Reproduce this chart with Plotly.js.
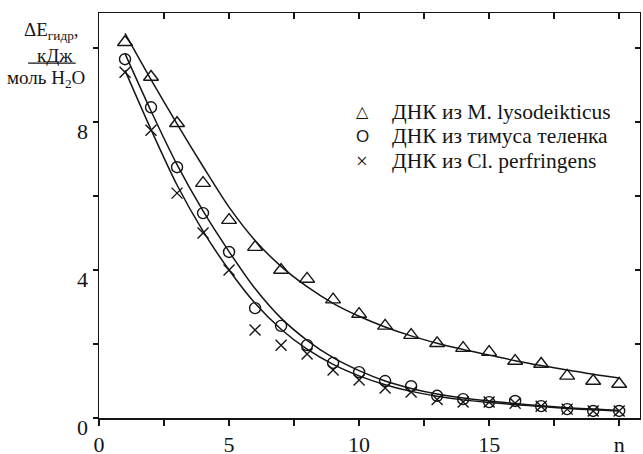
<!DOCTYPE html>
<html>
<head>
<meta charset="utf-8">
<script src="https://cdn.plot.ly/plotly-3.0.1.min.js"></script>
<style>html,body{margin:0;padding:0;background:#fff;}#chart{width:643px;height:454px;}</style>
</head>
<body>
<div id="chart"></div>
<script>
// n values
const nVals = [1,2,3,4,5,6,7,8,9,10,11,12,13,14,15,16,17,18,19,20];
// measured points
const lysoPts   = [10.16, 9.22, 7.97, 6.35, 5.35, 4.62, 4.0, 3.76, 3.2, 2.81, 2.49, 2.24, 2.02, 1.89, 1.78, 1.54, 1.46, 1.14, 1.0, 0.92];
const thymusPts = [9.7, 8.4, 6.78, 5.54, 4.49, 2.97, 2.49, 1.97, 1.49, 1.24, 1.0, 0.86, 0.6, 0.51, 0.43, 0.46, 0.32, 0.24, 0.19, 0.19];
const perfPts   = [9.35, 7.78, 6.08, 5.0, 4.0, 2.38, 1.97, 1.73, 1.3, 1.03, 0.81, 0.7, 0.5, 0.43, 0.43, 0.4, 0.32, 0.24, 0.19, 0.19];
// fitted curves
const lysoFit   = [10.4, 9.15, 7.95, 6.8, 5.7, 4.8, 4.1, 3.55, 3.1, 2.75, 2.46, 2.22, 2.02, 1.85, 1.7, 1.55, 1.42, 1.3, 1.18, 1.08];
const thymusFit = [9.85, 8.3, 6.85, 5.6, 4.5, 3.5, 2.7, 2.1, 1.63, 1.28, 1.0, 0.8, 0.65, 0.54, 0.46, 0.39, 0.33, 0.28, 0.24, 0.2];
const perfFit   = [9.4, 7.8, 6.3, 5.05, 4.0, 3.1, 2.4, 1.86, 1.45, 1.14, 0.9, 0.72, 0.59, 0.49, 0.42, 0.36, 0.31, 0.26, 0.22, 0.19];
// labels
const legendNames   = ['ДНК из M. lysodeikticus', 'ДНК из тимуса теленка', 'ДНК из Cl. perfringens'];
const legendSymbols = ['△', 'O', '×'];
const xTickVals = [0, 5, 10, 15, 20];
const xTickText = ['0', '5', '10', '15', 'n'];
const yTickVals = [0, 4, 8];
const yTickText = ['0', '4', '8'];
const yTitleLines = ['ΔE<sub>гидр</sub>,', 'кДж', 'моль H<sub>2</sub>O'];

const ink = '#151515';
const serif = '"Liberation Serif", "Times New Roman", Times, serif';

function fitLine(y) {
  return {x: nVals, y: y, mode: 'lines', type: 'scatter', showlegend: false, hoverinfo: 'skip',
          line: {color: ink, width: 1.5, shape: 'spline', smoothing: 0.8}};
}
function pts(y, name, symbol, size) {
  return {x: nVals, y: y, mode: 'markers', type: 'scatter', name: name, showlegend: false,
          marker: {symbol: symbol, size: size, color: ink, line: {color: ink, width: 1.4}}};
}

const data = [
  fitLine(lysoFit), fitLine(thymusFit), fitLine(perfFit),
  pts(lysoPts, legendNames[0], 'triangle-up-open', 13),
  pts(thymusPts, legendNames[1], 'circle-open', 11),
  pts(perfPts, legendNames[2], 'x-thin-open', 11)
];

const xr = [0, 20.8], yr = [0, 10.95];
const tickFont = {family: serif, size: 22, color: ink};

const annotations = [];
// y tick labels, placed on the y scale, sitting slightly below their ticks as in the original
yTickVals.forEach((v, i) => {
  annotations.push({xref: 'paper', yref: 'y', x: -0.016, y: v, xanchor: 'right', yanchor: 'middle',
    yshift: -9, showarrow: false, text: yTickText[i], font: tickFont});
});
// legend rows (paper y of each row)
const legendRowY = [0.756, 0.696, 0.635];
legendNames.forEach((name, i) => {
  annotations.push({xref: 'paper', yref: 'paper', x: 0.487, y: legendRowY[i], xanchor: 'center', yanchor: 'middle',
    showarrow: false, text: legendSymbols[i],
    font: {family: i === 0 ? 'DejaVu Sans' : (i === 1 ? 'Liberation Sans' : serif), size: i === 2 ? 21 : (i === 0 ? 16 : 17), color: ink}});
  annotations.push({xref: 'paper', yref: 'paper', x: 0.538, y: legendRowY[i], xanchor: 'left', yanchor: 'middle',
    showarrow: false, text: name, font: {family: serif, size: 21.5, color: ink}});
});
annotations.push(
  {xref: 'paper', yref: 'paper', x: -0.087, y: 0.955, xanchor: 'center', yanchor: 'middle', showarrow: false,
   text: yTitleLines[0], font: {family: serif, size: 19, color: ink}},
  {xref: 'paper', yref: 'paper', x: -0.082, y: 0.896, xanchor: 'center', yanchor: 'middle', showarrow: false,
   text: yTitleLines[1], font: {family: serif, size: 19, color: ink}},
  {xref: 'paper', yref: 'paper', x: -0.098, y: 0.838, xanchor: 'center', yanchor: 'middle', showarrow: false,
   text: yTitleLines[2], font: {family: serif, size: 19, color: ink}}
);

const layout = {
  width: 643, height: 454,
  margin: {l: 99, r: 3, t: 13, b: 36},
  paper_bgcolor: '#fff', plot_bgcolor: '#fff',
  font: {family: serif, color: ink},
  showlegend: false,
  xaxis: {range: xr, showgrid: false, zeroline: false, showline: true, linecolor: ink, linewidth: 1.5,
          ticks: 'outside', ticklen: 6, tickwidth: 1.5, tickcolor: ink,
          tickvals: xTickVals, ticktext: xTickText, tickfont: tickFont, ticklabelstandoff: 0,
          minor: {tickvals: [2.5, 7.5, 12.5, 17.5], ticks: 'outside', ticklen: 6, tickwidth: 1.5, tickcolor: ink}},
  yaxis: {range: yr, showgrid: false, zeroline: false, showline: true, linecolor: ink, linewidth: 1.5,
          ticks: 'outside', ticklen: 5, tickwidth: 1.5, tickcolor: ink,
          tickvals: yTickVals, showticklabels: false,
          minor: {tickvals: [2, 6, 10], ticks: 'outside', ticklen: 5, tickwidth: 1.5, tickcolor: ink}},
  xaxis2: {overlaying: 'x', side: 'top', anchor: 'y', range: xr, showgrid: false, zeroline: false,
           showline: true, linecolor: ink, linewidth: 1.2, ticks: 'inside', ticklen: 6, tickwidth: 1.5, tickcolor: ink,
           tickvals: [5, 10, 15, 20], showticklabels: false,
           minor: {tickvals: [2.5, 7.5, 12.5, 17.5], ticks: 'inside', ticklen: 6, tickwidth: 1.5, tickcolor: ink}},
  yaxis2: {overlaying: 'y', side: 'right', anchor: 'x', range: yr, showgrid: false, zeroline: false,
           showline: true, linecolor: ink, linewidth: 1.2, ticks: 'inside', ticklen: 5, tickwidth: 1.5, tickcolor: ink,
           tickvals: [4, 8], showticklabels: false,
           minor: {tickvals: [2, 6, 10], ticks: 'inside', ticklen: 5, tickwidth: 1.5, tickcolor: ink}},
  annotations: annotations,
  shapes: [
    {type: 'line', xref: 'paper', yref: 'paper', x0: -0.131, x1: -0.043, y0: 0.876, y1: 0.876,
     line: {color: ink, width: 1.3}}
  ]
};

// empty helper trace so the mirror axes exist
data.push({x: [], y: [], xaxis: 'x2', yaxis: 'y2', type: 'scatter', showlegend: false, hoverinfo: 'skip'});

Plotly.newPlot('chart', data, layout, {staticPlot: true, displayModeBar: false});
</script>
</body>
</html>
